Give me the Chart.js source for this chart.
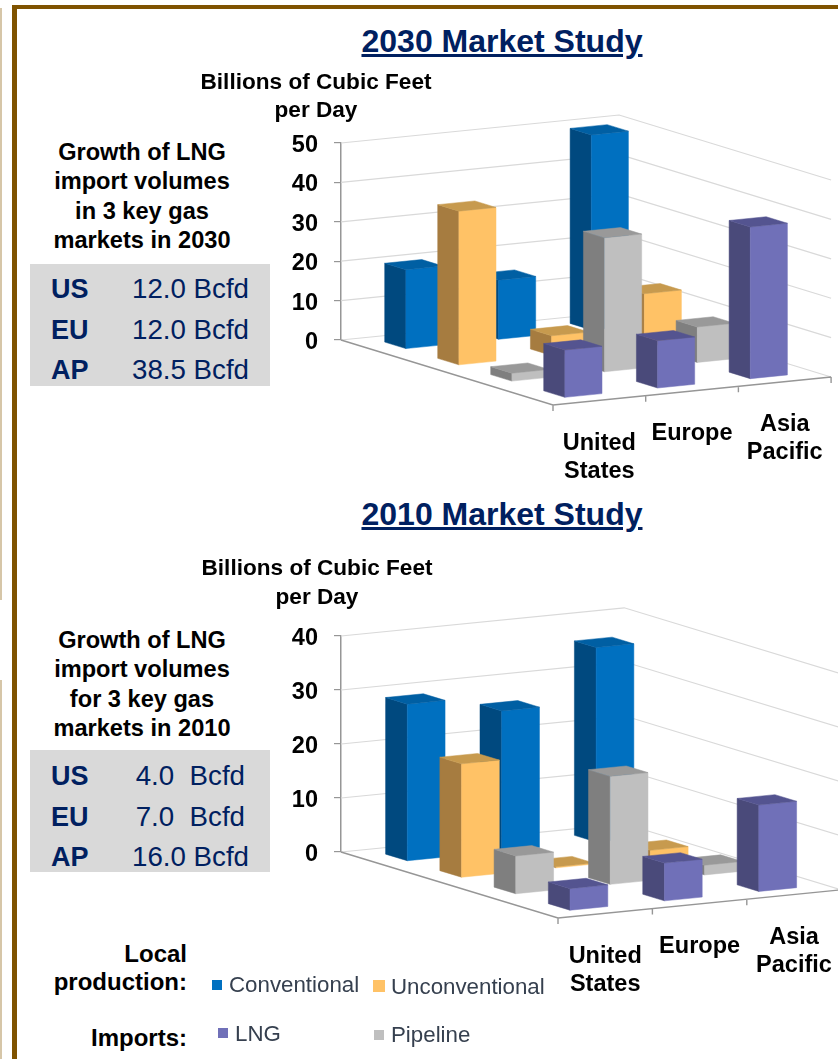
<!DOCTYPE html>
<html>
<head>
<meta charset="utf-8">
<title>LNG market studies</title>
<script src="https://cdn.jsdelivr.net/npm/chart.js@4"></script>
<style>
  html, body { margin: 0; padding: 0; background: #fff; }
  #page { position: relative; width: 838px; height: 1059px; overflow: hidden; font-family: "Liberation Sans", Arial, sans-serif; }
  #page > * { position: absolute; }
  canvas { display: block; }
  .frame { background: #7f5300; }
  .edge { background: #d6c6a8; left: 0; width: 2px; }
  .title { left: 302px; width: 400px; text-align: center; font-size: 32px; line-height: 36px; font-weight: bold; color: #002060; text-decoration: underline; }
  .unit { left: 166px; width: 300px; text-align: center; font-size: 22.6px; line-height: 28px; font-weight: bold; color: #000; }
  .growth { left: 12px; width: 260px; text-align: center; font-size: 23.6px; line-height: 29.4px; font-weight: bold; color: #000; }
  .box { left: 30px; width: 240px; height: 122px; background: #d9d9d9; }
  .rowname, .rowval { line-height: 32px; color: #002060; white-space: pre; }
  .rowname { left: 51px; font-size: 27px; font-weight: bold; }
  .rowval { font-size: 27.7px; }
  .legendhead { right: 651px; width: 180px; text-align: right; font-size: 24px; line-height: 28px; font-weight: bold; color: #000; }
  .swatch { width: 10px; height: 10px; }
  .legendtxt { font-size: 22.3px; line-height: 26px; color: #36404f; white-space: nowrap; filter: blur(0.4px); }
</style>
</head>
<body>
<div id="page">
  <div class="frame" style="left:12px;top:5px;width:826px;height:4px"></div>
  <div class="frame" style="left:12px;top:5px;width:5px;height:1054px"></div>
  <div class="edge" style="top:8px;height:592px"></div>
  <div class="edge" style="top:680px;height:379px"></div>

  <canvas id="chart2030" width="558" height="390" style="left:280px;top:100px"></canvas>
  <canvas id="chart2010" width="558" height="410" style="left:280px;top:590px"></canvas>

  <div class="title" style="top:23px">2030 Market Study</div>
  <div class="unit" style="top:68px">Billions of Cubic Feet<br>per Day</div>
  <div class="growth" style="top:138px">Growth of LNG<br>import volumes<br>in 3 key gas<br>markets in 2030</div>
  <div class="box" style="top:264px"></div>

  <div class="title" style="top:496px">2010 Market Study</div>
  <div class="unit" style="top:553px;left:167px;line-height:29px">Billions of Cubic Feet<br>per Day</div>
  <div class="growth" style="top:626px">Growth of LNG<br>import volumes<br>for 3 key gas<br>markets in 2010</div>
  <div class="box" style="top:750px"></div>

  <div class="legendhead" style="top:940px">Local<br>production:</div>
  <div class="legendhead" style="top:1024px">Imports:</div>
  <div class="swatch" style="left:212px;top:980px;background:#0070c0"></div>
  <div class="legendtxt" style="left:229px;top:972px">Conventional</div>
  <div class="swatch" style="left:373px;top:980px;width:12px;height:12px;background:#ffc266"></div>
  <div class="legendtxt" style="left:391px;top:974px">Unconventional</div>
  <div class="swatch" style="left:218px;top:1028px;background:#7070b8"></div>
  <div class="legendtxt" style="left:235px;top:1021px">LNG</div>
  <div class="swatch" style="left:374px;top:1030px;background:#bfbfbf"></div>
  <div class="legendtxt" style="left:391px;top:1022px">Pipeline</div>
</div>

<script>
// data
const categories = [["United", "States"], ["Europe"], ["Asia", "Pacific"]];
const seriesNames = ["Conventional", "Unconventional", "Pipeline", "LNG"];

const conventional2030 = [20, 15, 49.5];
const unconventional2030 = [39, 5, 13.3];
const pipeline2030 = [2, 34, 9];
const lng2030 = [12, 12, 38.5];
const ticks2030 = [0, 10, 20, 30, 40, 50];

const conventional2010 = [29, 26, 36];
const unconventional2010 = [21, 0.2, 1.5];
const pipeline2010 = [7, 20, 1.8];
const lng2010 = [4, 7, 16];
const ticks2010 = [0, 10, 20, 30, 40];

const regions = ["US", "EU", "AP"];
const imports2030 = ["12.0 Bcfd", "12.0 Bcfd", "38.5 Bcfd"];
const imports2010 = ["4.0  Bcfd", "7.0  Bcfd", "16.0 Bcfd"];

// front, side and top face colours, same order as seriesNames
const faceColors = [
  ["#0070c0", "#00497f", "#005fa3"],
  ["#ffc266", "#a67c40", "#c79a4e"],
  ["#bfbfbf", "#7f7f7f", "#999999"],
  ["#7070b8", "#4a4a7a", "#545490"]
];
const barShare = 0.4;  // gap width 150%

const page = document.getElementById("page");
function addRows(values, tops, ends) {
  regions.forEach(function (r, i) {
    const n = document.createElement("div");
    n.className = "rowname";
    n.style.top = tops[i] + "px";
    n.textContent = r;
    page.appendChild(n);
    const v = document.createElement("div");
    v.className = "rowval";
    v.style.top = tops[i] + "px";
    v.style.right = (838 - ends[i]) + "px";
    v.textContent = values[i];
    page.appendChild(v);
  });
}
addRows(imports2030, [273, 314, 354], [249, 249, 249]);
addRows(imports2010, [760, 801, 841], [245, 245, 249]);

function poly(ctx, pts, color) {
  ctx.beginPath();
  pts.forEach(function (p, i) {
    if (i == 0) ctx.moveTo(p[0], p[1]); else ctx.lineTo(p[0], p[1]);
  });
  ctx.closePath();
  ctx.fillStyle = color;
  ctx.strokeStyle = color;
  ctx.lineWidth = 0.5;
  ctx.fill();
  ctx.stroke();
}

// the library has no 3D bars, so the bar elements are replaced by boxes
// projected on a sheared floor; heights still come from the y scale
const bars3d = {
  id: "bars3d",
  beforeDatasetsDraw(chart, args, opts) {
    const ctx = chart.ctx;
    const y = chart.scales.y;
    const zero = y.getPixelForValue(0);
    const left = [chart.chartArea.left, zero];
    const nCat = categories.length;
    const nSer = seriesNames.length;
    const front = [left[0] - nSer * opts.v[0], left[1] - nSer * opts.v[1]];

    // u along categories, v from the front to the back
    const ground = function (u, v) {
      return [front[0] + u * opts.u[0] + v * opts.v[0], front[1] + u * opts.u[1] + v * opts.v[1]];
    };
    const right = ground(nCat, 0);
    const back = ground(nCat, nSer);

    ctx.save();

    // walls
    ctx.strokeStyle = "#d9d9d9";
    ctx.lineWidth = 1.2;
    y.ticks.forEach(function (t) {
      const h = zero - y.getPixelForValue(t.value);
      ctx.beginPath();
      ctx.moveTo(left[0], left[1] - h);
      ctx.lineTo(back[0], back[1] - h);
      ctx.lineTo(right[0], right[1] - h);
      ctx.stroke();
    });

    // floor edges and category ticks
    ctx.strokeStyle = "#969696";
    ctx.lineWidth = 1.4;
    ctx.beginPath();
    ctx.moveTo(left[0], left[1]);
    ctx.lineTo(front[0], front[1]);
    ctx.lineTo(right[0], right[1]);
    for (let i = 0; i <= nCat; i++) {
      const p = ground(i, 0);
      ctx.moveTo(p[0], p[1]);
      ctx.lineTo(p[0], p[1] + 6);
    }
    ctx.stroke();

    // back to front, right to left
    for (let c = nCat - 1; c >= 0; c--) {
      for (let s = 0; s < nSer; s++) {
        const val = chart.data.datasets[s].data[c];
        const h = zero - y.getPixelForValue(val);
        const v = nSer - 1 - s;
        const m = (1 - barShare) / 2;
        const fl = ground(c + m, v + m);
        const fr = ground(c + 1 - m, v + m);
        const bl = ground(c + m, v + 1 - m);
        const br = ground(c + 1 - m, v + 1 - m);
        const up = function (p) { return [p[0], p[1] - h]; };
        const col = faceColors[s];
        poly(ctx, [bl, fl, up(fl), up(bl)], col[1]);
        poly(ctx, [fl, fr, up(fr), up(fl)], col[0]);
        poly(ctx, [up(bl), up(fl), up(fr), up(br)], col[2]);
      }
    }

    // category labels follow the slanted axis
    ctx.fillStyle = "#000";
    ctx.font = "bold 23.5px 'Liberation Sans', Arial, sans-serif";
    ctx.textAlign = "center";
    ctx.textBaseline = "middle";
    categories.forEach(function (lines, i) {
      const p = ground(i + 0.5, 0);
      lines.forEach(function (line, k) {
        ctx.fillText(line, p[0], p[1] + 43 + k * 28);
      });
    });

    ctx.restore();
    return false;
  }
};

function makeChart(id, series, tickValues, padTop, padBottom, u, v) {
  return new Chart(document.getElementById(id), {
    type: "bar",
    data: {
      labels: categories,
      datasets: seriesNames.map(function (name, i) {
        return { label: name, data: series[i] };
      })
    },
    plugins: [bars3d],
    options: {
      responsive: false,
      animation: false,
      layout: { padding: { top: padTop, bottom: padBottom, left: 0, right: 0 } },
      plugins: {
        legend: { display: false },
        tooltip: { enabled: false },
        bars3d: { u: u, v: v }
      },
      scales: {
        x: { display: false },
        y: {
          min: tickValues[0],
          max: tickValues[tickValues.length - 1],
          afterFit(scale) { scale.width = 61; },
          ticks: {
            stepSize: tickValues[1] - tickValues[0],
            padding: 16,
            labelOffset: 2.5,
            color: "#000",
            font: { family: "'Liberation Sans', Arial, sans-serif", size: 23.5, weight: "bold" }
          },
          border: { display: true, color: "#969696", width: 1.5 },
          grid: { drawOnChartArea: false, drawTicks: true, tickLength: 7, color: "#969696", lineWidth: 1.2 }
        }
      }
    }
  });
}

makeChart("chart2030", [conventional2030, unconventional2030, pipeline2030, lng2030], ticks2030,
  43, 150, [92.7, -9.33], [-53, -16.25]);
makeChart("chart2010", [conventional2010, unconventional2010, pipeline2010, lng2010], ticks2010,
  46, 148, [94.4, -9.4], [-54.25, -16.5]);
</script>
</body>
</html>
